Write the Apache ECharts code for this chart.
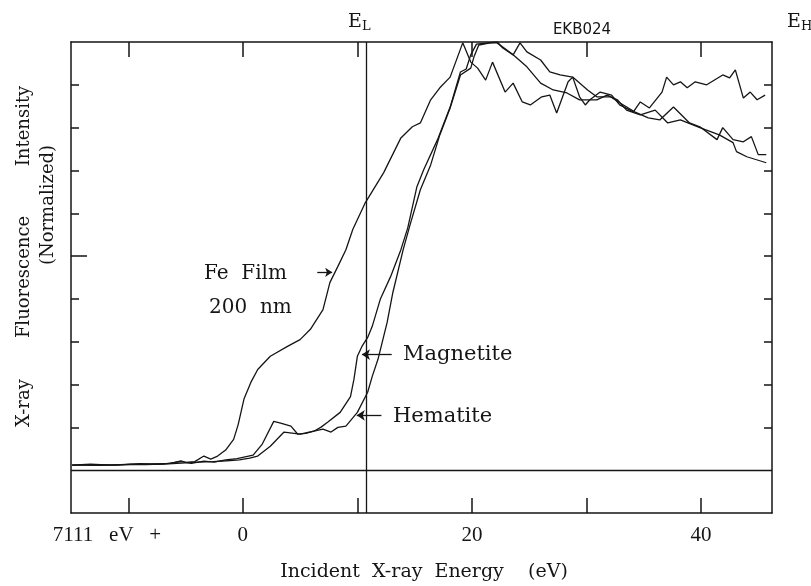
<!DOCTYPE html>
<html>
<head>
<meta charset="utf-8">
<script src="https://cdn.jsdelivr.net/npm/echarts@6/dist/echarts.min.js"></script>
<style>
  html, body { margin: 0; padding: 0; background: #fff; }
  #main { width: 811px; height: 586px; }
</style>
</head>
<body>
<div id="main"></div>
<script>
// energy offsets (eV above 7111 eV) and normalized intensities
var feEnergy = [-14.9,-13.3,-11.5,-9.8,-8.0,-6.3,-5.4,-5.0,-4.2,-3.4,-2.8,-2.2,-1.5,-0.8,-0.4,0.1,0.7,1.3,2.4,3.9,5.0,5.9,7.0,7.6,8.3,9.0,9.6,10.7,12.3,13.8,14.8,15.5,16.4,17.2,18.1,19.2,19.9,20.5,21.2,21.8,22.9,23.6,24.4,25.1,26.1,26.8,27.4,28.4,28.8,29.4,29.9,30.3,31.2,32.2,32.9,34.1,34.7,35.5,36.6,37.0,37.6,38.2,38.8,39.5,40.5,41.9,42.5,43.0,43.7,44.3,44.9,45.6];
var feIntensity = [0.012,0.014,0.012,0.014,0.014,0.016,0.022,0.018,0.02,0.033,0.026,0.033,0.047,0.072,0.107,0.166,0.205,0.235,0.266,0.289,0.305,0.329,0.375,0.438,0.476,0.515,0.562,0.625,0.695,0.776,0.802,0.811,0.865,0.893,0.918,0.998,0.953,0.939,0.911,0.953,0.883,0.904,0.860,0.853,0.872,0.876,0.834,0.907,0.918,0.872,0.853,0.865,0.883,0.876,0.853,0.837,0.860,0.846,0.883,0.918,0.900,0.907,0.893,0.907,0.900,0.923,0.916,0.935,0.869,0.883,0.865,0.876];

var mgEnergy = [-14.9,-13.0,-11.0,-9.0,-7.0,-5.4,-4.5,-3.4,-2.5,-1.5,-0.5,0.9,1.7,2.7,3.3,4.2,4.8,5.5,6.2,6.8,7.4,8.5,9.4,9.7,10.0,10.4,10.9,11.3,12.0,12.9,13.8,14.4,15.2,15.8,17.0,18.1,19.0,19.5,19.9,20.4,22.2,22.7,23.6,24.2,24.8,26.0,26.8,27.7,28.8,30.1,30.9,32.1,32.9,34.2,35.4,36.4,37.6,39.0,39.9,41.4,41.9,42.8,43.7,44.4,45.0,45.7];
var mgIntensity = [0.012,0.013,0.012,0.015,0.014,0.02,0.016,0.021,0.019,0.024,0.027,0.035,0.061,0.114,0.110,0.103,0.084,0.086,0.091,0.100,0.112,0.135,0.172,0.212,0.266,0.289,0.310,0.336,0.399,0.452,0.515,0.566,0.662,0.702,0.772,0.848,0.930,0.937,0.970,0.995,1.0,0.986,0.970,0.998,0.977,0.958,0.930,0.923,0.918,0.888,0.872,0.872,0.858,0.837,0.823,0.818,0.848,0.811,0.802,0.772,0.800,0.772,0.767,0.779,0.737,0.737];

var hmEnergy = [-14.9,-12.5,-10.5,-8.5,-6.5,-5.0,-3.8,-2.6,-1.4,-0.3,0.6,1.3,2.4,3.6,5.0,6.2,7.0,7.7,8.3,9.0,10.0,10.9,11.3,11.8,12.6,13.1,14.0,14.6,15.5,16.4,17.2,18.1,19.0,19.9,20.2,20.6,21.6,22.2,23.6,24.8,26.0,27.1,28.3,29.4,30.9,31.8,32.7,33.5,34.7,36.0,37.1,38.2,39.9,41.6,42.8,43.1,44.0,45.7];
var hmIntensity = [0.012,0.011,0.013,0.013,0.015,0.017,0.019,0.02,0.022,0.024,0.028,0.033,0.056,0.089,0.084,0.091,0.096,0.089,0.100,0.103,0.135,0.182,0.219,0.259,0.345,0.415,0.515,0.573,0.655,0.713,0.783,0.846,0.923,0.939,0.967,0.993,0.998,0.998,0.970,0.942,0.904,0.888,0.881,0.865,0.865,0.876,0.865,0.841,0.830,0.841,0.811,0.818,0.800,0.783,0.765,0.744,0.732,0.718];

var xTicks = [-10, 0, 10, 20, 30, 40];
var xTickLabels = [0, 20, 40];
var yTicks = [0.1, 0.2, 0.3, 0.4, 0.5, 0.6, 0.7, 0.8, 0.9];
var eLow = 10.8;

function zip(xs, ys) {
  return xs.map(function (x, i) { return [x, ys[i]]; });
}

var ink = '#151515';
var serif = '"DejaVu Serif", serif';

var myChart = echarts.init(document.getElementById('main'));

var lineSeries = function (name, data) {
  return {
    name: name,
    type: 'line',
    data: data,
    showSymbol: false,
    symbol: 'none',
    lineStyle: { color: ink, width: 1.3 },
    silent: true,
    z: 3
  };
};

var option = {
  animation: false,
  backgroundColor: '#fff',
  grid: { left: 71, right: 39, top: 42, bottom: 73 },
  xAxis: [
    {
      type: 'value', min: -15, max: 46.2, position: 'bottom',
      axisLine: { show: true, onZero: false, lineStyle: { color: ink, width: 1.5 } },
      axisTick: { show: true, inside: true, length: 15, customValues: xTicks, lineStyle: { color: ink, width: 1.5 } },
      axisLabel: { show: true, customValues: xTickLabels, margin: 12, color: ink, fontFamily: '"Liberation Serif", serif', fontSize: 21 },
      splitLine: { show: false }
    },
    {
      type: 'value', min: -15, max: 46.2, position: 'top',
      axisLine: { show: true, onZero: false, lineStyle: { color: ink, width: 1.5 } },
      axisTick: { show: true, inside: true, length: 15, customValues: xTicks, lineStyle: { color: ink, width: 1.5 } },
      axisLabel: { show: false },
      splitLine: { show: false }
    }
  ],
  yAxis: [
    {
      type: 'value', min: -0.1, max: 1.0, position: 'left',
      axisLine: { show: true, onZero: false, lineStyle: { color: ink, width: 1.5 } },
      axisTick: { show: true, inside: true, length: 8, customValues: yTicks, lineStyle: { color: ink, width: 1.5 } },
      axisLabel: { show: false },
      splitLine: { show: false }
    },
    {
      type: 'value', min: -0.1, max: 1.0, position: 'right',
      axisLine: { show: true, onZero: false, lineStyle: { color: ink, width: 1.5 } },
      axisTick: { show: true, inside: true, length: 8, customValues: yTicks, lineStyle: { color: ink, width: 1.5 } },
      axisLabel: { show: false },
      splitLine: { show: false }
    },
    {
      type: 'value', min: -0.1, max: 1.0, position: 'left',
      axisLine: { show: false, onZero: false },
      axisTick: { show: true, inside: true, length: 16, customValues: [0.5], lineStyle: { color: ink, width: 1.5 } },
      axisLabel: { show: false },
      splitLine: { show: false }
    }
  ],
  series: [
    Object.assign(lineSeries('Fe Film', zip(feEnergy, feIntensity)), {
      markLine: {
        silent: true, symbol: 'none',
        label: { show: false },
        lineStyle: { color: ink, width: 1.3, type: 'solid' },
        data: [
          { yAxis: 0 },
          { xAxis: eLow },
          [{ coord: [6.5, 0.462] }, { coord: [7.8, 0.462], symbol: 'arrow', symbolSize: 7 }]
        ]
      }
    }),
    Object.assign(lineSeries('Magnetite', zip(mgEnergy, mgIntensity)), {
      markLine: {
        silent: true, symbol: ['none', 'arrow'], symbolSize: 8,
        label: { show: false },
        lineStyle: { color: ink, width: 1.3, type: 'solid' },
        data: [
          [{ coord: [13.0, 0.27] }, { coord: [10.4, 0.27] }],
          [{ coord: [12.1, 0.128] }, { coord: [9.95, 0.128] }]
        ]
      }
    }),
    lineSeries('Hematite', zip(hmEnergy, hmIntensity))
  ],
  graphic: [
    { type: 'text', x: 348, y: 22, style: { text: 'E', font: '19px ' + serif, fill: ink, textVerticalAlign: 'middle' } },
    { type: 'text', x: 362, y: 27, style: { text: 'L', font: '13px ' + serif, fill: ink, textVerticalAlign: 'middle' } },
    { type: 'text', x: 787, y: 22, style: { text: 'E', font: '19px ' + serif, fill: ink, textVerticalAlign: 'middle' } },
    { type: 'text', x: 801, y: 27, style: { text: 'H', font: '13px ' + serif, fill: ink, textVerticalAlign: 'middle' } },
    { type: 'text', x: 582, y: 30, style: { text: 'EKB024', font: '15px "DejaVu Sans", sans-serif', fill: ink, textAlign: 'center', textVerticalAlign: 'middle' } },
    { type: 'text', x: 204, y: 274, style: { text: 'Fe  Film', font: '20px ' + serif, fill: ink, textVerticalAlign: 'middle' } },
    { type: 'text', x: 209, y: 308, style: { text: '200  nm', font: '20px ' + serif, fill: ink, textVerticalAlign: 'middle' } },
    { type: 'text', x: 403, y: 355, style: { text: 'Magnetite', font: '21px ' + serif, fill: ink, textVerticalAlign: 'middle' } },
    { type: 'text', x: 393, y: 417, style: { text: 'Hematite', font: '21px ' + serif, fill: ink, textVerticalAlign: 'middle' } },
    { type: 'text', x: 107, y: 535, style: { text: '7111   eV   +', font: '21px "Liberation Serif", serif', fill: ink, textAlign: 'center', textVerticalAlign: 'middle' } },
    { type: 'text', x: 424, y: 572, style: { text: 'Incident  X-ray  Energy    (eV)', font: '19px ' + serif, fill: ink, textAlign: 'center', textVerticalAlign: 'middle' } },
    { type: 'text', x: 24, y: 403, rotation: Math.PI / 2, style: { text: 'X-ray', font: '18px ' + serif, fill: ink, textAlign: 'center', textVerticalAlign: 'middle' } },
    { type: 'text', x: 24, y: 277, rotation: Math.PI / 2, style: { text: 'Fluorescence', font: '18px ' + serif, fill: ink, textAlign: 'center', textVerticalAlign: 'middle' } },
    { type: 'text', x: 24, y: 126, rotation: Math.PI / 2, style: { text: 'Intensity', font: '18px ' + serif, fill: ink, textAlign: 'center', textVerticalAlign: 'middle' } },
    { type: 'text', x: 48, y: 205, rotation: Math.PI / 2, style: { text: '(Normalized)', font: '18px ' + serif, fill: ink, textAlign: 'center', textVerticalAlign: 'middle' } }
  ]
};

myChart.setOption(option);
</script>
</body>
</html>
